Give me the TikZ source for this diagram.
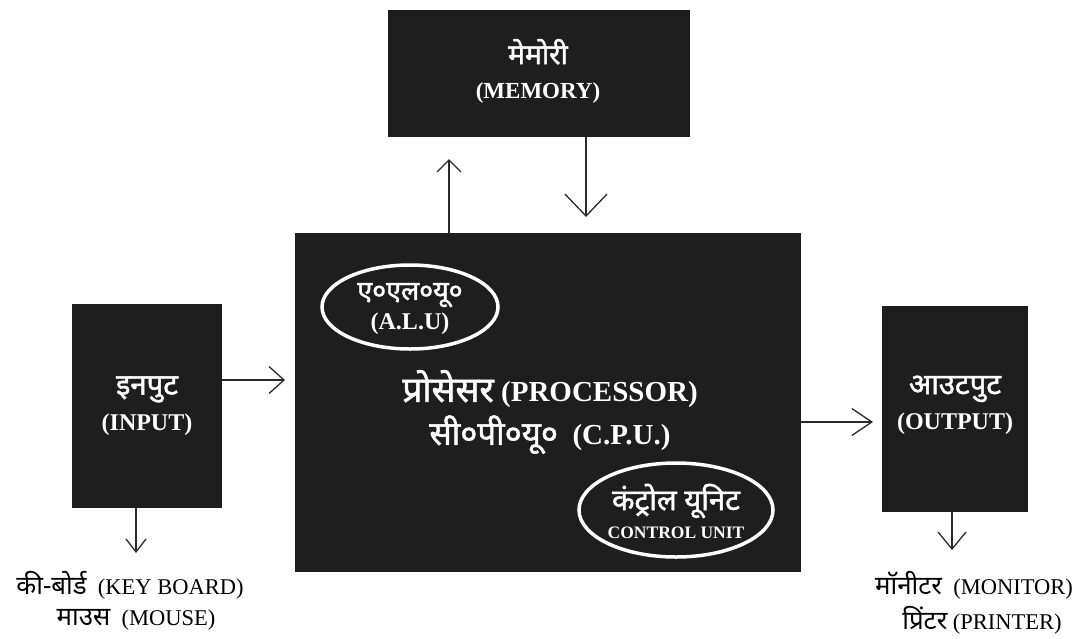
\documentclass[tikz,border=0pt]{standalone}
\usepackage{fontspec}
\setmainfont{Liberation Serif}
\newfontfamily\dev[Script=Devanagari,Scale=1.15]{Noto Sans}
\newfontfamily\devb[Script=Devanagari,Scale=1.22,FakeBold=1.6]{Noto Sans}
\usetikzlibrary{arrows.meta,shapes.geometric}
\definecolor{boxgray}{HTML}{1E1E1E}
\definecolor{inkgray}{HTML}{2A2A2A}
\tikzset{
  blk/.style={fill=boxgray, draw=none, inner sep=0pt, minimum width=#1},
  wtxt/.style={text=white, align=center, inner sep=0pt},
  ring/.style={ellipse, draw=white, line width=3.5pt, inner sep=0pt},
  flow/.style={draw=inkgray, line width=1.3pt},
  lbl/.style={text=black, inner sep=0pt, font=\fontsize{22.5}{26}\selectfont},
}
\newcommand{\dv}[1]{{\dev #1}}
\newcommand{\dvb}[1]{{\devb #1}}
\begin{document}
\begin{tikzpicture}[x=1pt,y=-1pt]
\useasboundingbox (0,0) rectangle (1092,638);

% blocks
\node[blk=302pt, minimum height=127pt] (mem) at (539,73.5) {};
\node[blk=506pt, minimum height=339pt] (cpu) at (548,402.5) {};
\node[blk=150pt, minimum height=204pt] (inp) at (147,406) {};
\node[blk=146pt, minimum height=206pt] (out) at (955,409) {};

% block captions
\node[wtxt, font=\bfseries\fontsize{23}{34}\selectfont] (memtxt) at (538,71) {\dvb{मेमोरी}\\(MEMORY)};
\node[wtxt, font=\bfseries\fontsize{24}{36}\selectfont] (inptxt) at (147,406) {\dvb{इनपुट}\\(INPUT)};
\node[wtxt, font=\bfseries\fontsize{24}{35}\selectfont] (outtxt) at (955,405) {\dvb{आउटपुट}\\(OUTPUT)};
\node[wtxt, font=\bfseries\fontsize{29}{43}\selectfont] (cputxt) at (550,412) {\dvb{प्रोसेसर} (PROCESSOR)\\{\fontsize{27}{43}\selectfont\dvb{सी०पी०यू०}}\ \ (C.P.U.)};

% units inside the processor
\node[ring, minimum width=176pt, minimum height=84pt] (alu) at (410,307) {};
\node[wtxt, font=\bfseries\fontsize{24}{30}\selectfont] (alutxt) at (410,309) {{\fontsize{22}{30}\selectfont\dvb{ए०एल०यू०}}\\(A.L.U)};
\node[ring, minimum width=194pt, minimum height=94pt] (cu) at (676,510) {};
\node[wtxt, font=\bfseries\fontsize{20}{28}\selectfont] (cutxt) at (676,511) {{\fontsize{24}{28}\selectfont\dvb{कंट्रोल यूनिट}}\\{\fontsize{17.5}{20}\selectfont CONTROL UNIT}};

% free ends of the connectors
\coordinate (upend) at (449,159);
\coordinate (dnend) at (586,217);
\coordinate (inend) at (285,380);
\coordinate (outend) at (873,422);
\coordinate (kbend) at (136,553);
\coordinate (monend) at (952,550);

% connectors
\draw[flow,-{Straight Barb[length=12pt,width=24pt]}] (cpu.north -| upend) -- (upend);
\draw[flow,-{Straight Barb[length=22pt,width=42pt]}] (mem.south -| dnend) -- (dnend);
\draw[flow,-{Straight Barb[length=15pt,width=27pt]}] (inp.east |- inend) -- (inend);
\draw[flow,-{Straight Barb[length=20pt,width=27pt]}] (cpu.east |- outend) -- (outend);
\draw[flow,-{Straight Barb[length=13pt,width=20pt]}] (inp.south -| kbend) -- (kbend);
\draw[flow,-{Straight Barb[length=17pt,width=28pt]}] (out.south -| monend) -- (monend);

% device lists
\node[lbl] (kb) at (130,585) {\dv{की-बोर्ड}\ \ (KEY BOARD)};
\node[lbl] (mouse) at (136,620) {\dv{माउस}\ \ (MOUSE)};
\node[lbl] (mon) at (974,585) {\dv{मॉनीटर}\ \ (MONITOR)};
\node[lbl] (prn) at (982,620) {\dv{प्रिंटर} (PRINTER)};
\end{tikzpicture}
\end{document}
